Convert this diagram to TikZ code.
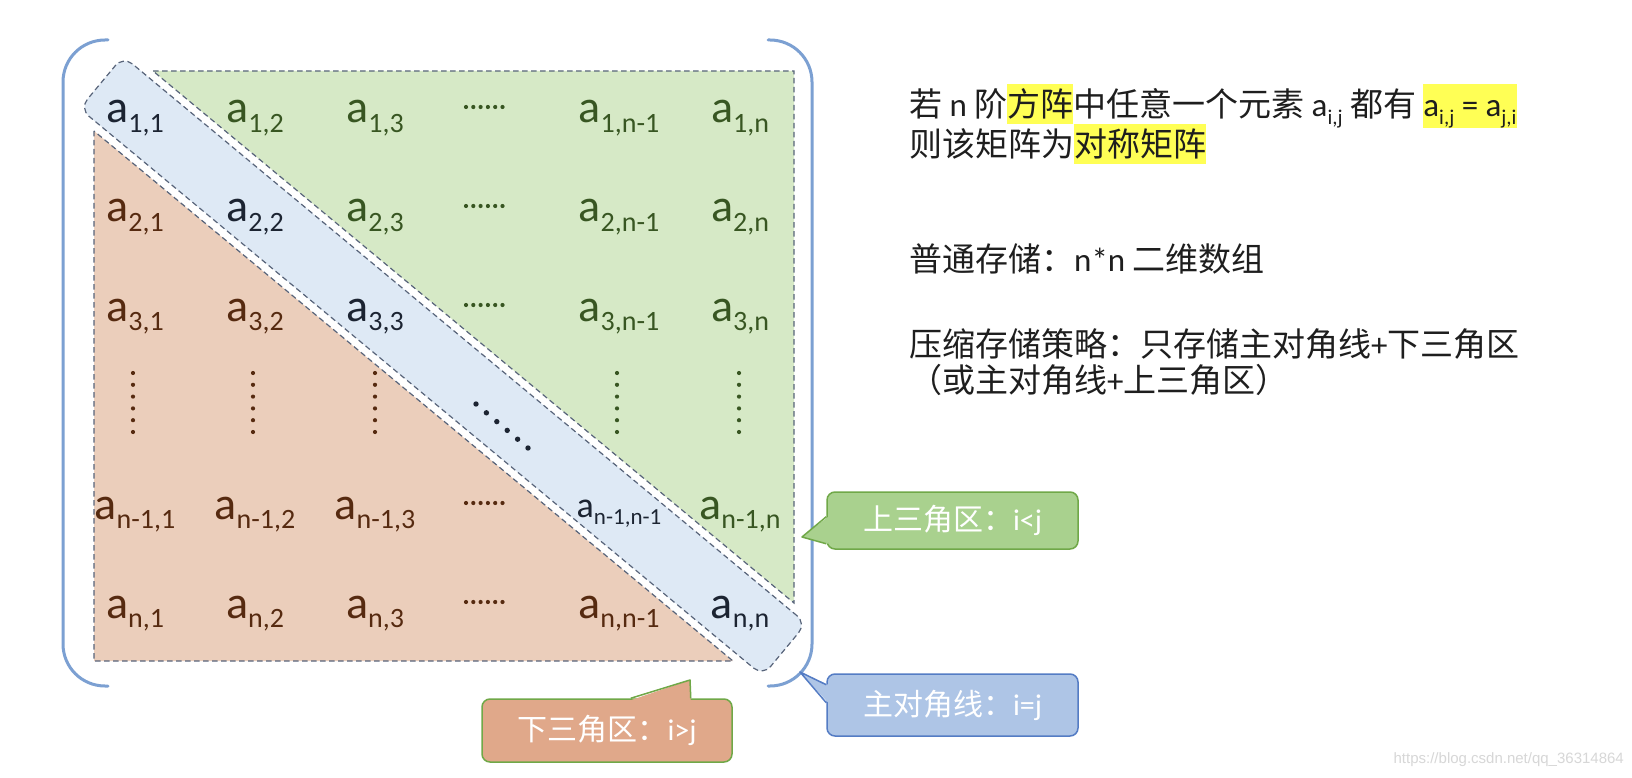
\documentclass[tikz,border=0pt]{standalone}
\usepackage{fontspec}
\setmainfont{Carlito}
\newfontfamily\cjk{Noto Sans CJK SC}
\newfontfamily\lat{Carlito}
\newfontfamily\wmfont{Liberation Sans}
\usetikzlibrary{calc}
\definecolor{gfill}{RGB}{214,233,198}
\definecolor{ofill}{RGB}{235,206,187}
\definecolor{bfill}{RGB}{222,233,245}
\definecolor{dashc}{RGB}{88,100,122}
\definecolor{brk}{RGB}{124,160,210}
\definecolor{gtext}{RGB}{56,86,34}
\definecolor{otext}{RGB}{86,42,16}
\definecolor{dtext}{RGB}{28,36,50}
\definecolor{hly}{RGB}{255,255,85}
\definecolor{txtc}{RGB}{30,30,30}
\definecolor{cgfill}{RGB}{169,209,142}
\definecolor{cgline}{RGB}{112,168,72}
\definecolor{cbfill}{RGB}{174,197,230}
\definecolor{cbline}{RGB}{84,124,196}
\definecolor{cofill}{RGB}{224,168,138}
\definecolor{coline}{RGB}{112,168,72}
\definecolor{wmc}{RGB}{215,215,215}
\newcommand\ael[2][28]{a\raisebox{-0.2em}{\fontsize{#1}{#1}\selectfont #2}}
\newcommand\mysub[1]{\raisebox{-0.22em}{\fontsize{21}{21}\selectfont #1}}
\newcommand\hly[1]{{\setlength\fboxsep{0pt}\colorbox{hly}{\rule[-0.2em]{0pt}{1.21em}#1}}}
\begin{document}
\begin{tikzpicture}[x=1pt,y=-1pt,
  dsh/.style={dash pattern=on 5.5pt off 3.5pt, line width=1.2pt, draw=dashc},
  brkline/.style={draw=brk, line width=3pt, line cap=round},
  ent/.style={anchor=base, inner sep=0pt, font=\fontsize{46}{46}\selectfont},
  dg/.style={text=dtext},
  gn/.style={text=gtext},
  og/.style={text=otext},
  txt/.style={anchor=base west, inner sep=0pt, text=txtc, font=\cjk\fontsize{33}{33}\selectfont},
  callout/.style={rounded corners=8pt, line width=1.5pt, minimum width=251pt, text=white, inner sep=0pt, font=\cjk\fontsize{30}{30}\selectfont}
]
\useasboundingbox (0,0) rectangle (1632,778);
\fill[white] (0,0) rectangle (1632,778);

% regions
\filldraw[fill=gfill, dsh] (153,71) -- (794,71) -- (794,603) -- cycle;
\filldraw[fill=ofill, dsh] (94,131) -- (94,661) -- (733,661) -- cycle;
\node[fill=bfill, dsh, rounded corners=12pt, minimum width=888pt, minimum height=68pt, rotate=-39.7, inner sep=0pt] (band) at (443,366) {};

% brackets
\draw[brkline, rounded corners=42pt] (108,40) -- (63,40) -- (63,686) -- (108,686);
\draw[brkline, rounded corners=42pt] (768,40) -- (812,40) -- (812,686) -- (768,686);

% row 1
\node[ent,dg] (e11) at (135,123) {\ael{1,1}};
\node[ent,gn] (e12) at (255,123) {\ael{1,2}};
\node[ent,gn] (e13) at (375,123) {\ael{1,3}};
\node[ent,gn] (e15) at (619,123) {\ael{1,n-1}};
\node[ent,gn] (e16) at (740,123) {\ael{1,n}};
% row 2
\node[ent,og] (e21) at (135,222) {\ael{2,1}};
\node[ent,dg] (e22) at (255,222) {\ael{2,2}};
\node[ent,gn] (e23) at (375,222) {\ael{2,3}};
\node[ent,gn] (e25) at (619,222) {\ael{2,n-1}};
\node[ent,gn] (e26) at (740,222) {\ael{2,n}};
% row 3
\node[ent,og] (e31) at (135,321) {\ael{3,1}};
\node[ent,og] (e32) at (255,321) {\ael{3,2}};
\node[ent,dg] (e33) at (375,321) {\ael{3,3}};
\node[ent,gn] (e35) at (619,321) {\ael{3,n-1}};
\node[ent,gn] (e36) at (740,321) {\ael{3,n}};
% row n-1
\node[ent,og] (e51) at (135,519) {\ael{n-1,1}};
\node[ent,og] (e52) at (255,519) {\ael{n-1,2}};
\node[ent,og] (e53) at (375,519) {\ael{n-1,3}};
\node[ent,dg,font=\fontsize{36}{36}\selectfont] (e55) at (619,517) {\ael[23]{n-1,n-1}};
\node[ent,gn] (e56) at (740,519) {\ael{n-1,n}};
% row n
\node[ent,og] (e61) at (135,618) {\ael{n,1}};
\node[ent,og] (e62) at (255,618) {\ael{n,2}};
\node[ent,og] (e63) at (375,618) {\ael{n,3}};
\node[ent,og] (e65) at (619,618) {\ael{n,n-1}};
\node[ent,dg] (e66) at (740,618) {\ael{n,n}};

% horizontal dots
\foreach \y/\c in {107/gtext,206/gtext,305/gtext,503/otext,602/otext}
  \foreach \i in {0,...,5}
    \fill[\c] (466+\i*7.3,\y) circle (2.1pt);
% vertical dots
\foreach \x/\c in {133/otext,253/otext,375/otext,617/gtext,739/gtext}
  \foreach \i in {0,...,5}
    \fill[\c] (\x,373+\i*11.8) circle (2.1pt);
% diagonal dots
\foreach \i in {0,...,5}
  \fill[dtext] (476+\i*10.4,404+\i*8.8) circle (2.7pt);

% right-hand text
\node[txt] (t1) at (909,117) {若 {\lat n} 阶\hly{方阵}中任意一个元素 {\lat a\mysub{i,j}} 都有 \hly{\lat a\mysub{i,j} = a\mysub{j,i}}};
\node[txt] (t2) at (909,157) {则该矩阵为\hly{对称矩阵}};
\node[txt] (t3) at (909,271) {普通存储：{\lat n*n} 二维数组};
\node[txt] (t4) at (909,356) {压缩存储策略：只存储主对角线{\lat +}下三角区};
\node[txt] (t5) at (909,392) {（或主对角线{\lat +}上三角区）};

% callouts
\node[callout, fill=cgfill, draw=cgline, minimum height=57pt] (upper) at (952.5,520.5) {上三角区：{\lat i<j}};
\coordinate (ut) at (802,537);
\fill[cgfill] ($(upper.south west)+(2,-33)$) -- (ut) -- ($(upper.south west)+(2,-6)$) -- cycle;
\draw[cgline, line width=1.5pt, line join=round] ($(upper.south west)+(0,-33)$) -- (ut) -- ($(upper.south west)+(0,-6)$);

\node[callout, fill=cbfill, draw=cbline, minimum height=62pt] (diag) at (952.5,705) {主对角线：{\lat i=j}};
\coordinate (dt) at (800,672);
\fill[cbfill] ($(diag.south west)+(2,-52)$) -- (dt) -- ($(diag.south west)+(2,-34)$) -- cycle;
\draw[cbline, line width=1.5pt, line join=round] ($(diag.south west)+(0,-52)$) -- (dt) -- ($(diag.south west)+(0,-34)$);

\node[callout, fill=cofill, draw=coline, minimum width=250pt, minimum height=63pt] (lower) at (607,730.5) {下三角区：{\lat i>j}};
\coordinate (lt) at (690,680);
\fill[cofill] ($(lower.north east)+(-102,2)$) -- (lt) -- ($(lower.north east)+(-42,2)$) -- cycle;
\draw[coline, line width=1.5pt, line join=round] ($(lower.north east)+(-102,0)$) -- (lt) -- ($(lower.north east)+(-42,0)$);

% watermark
\node[anchor=east, inner sep=0pt, text=wmc, font=\wmfont\fontsize{15}{15}\selectfont] (wm) at (1624,760) {https://blog.csdn.net/qq\_36314864};
\end{tikzpicture}
\end{document}
